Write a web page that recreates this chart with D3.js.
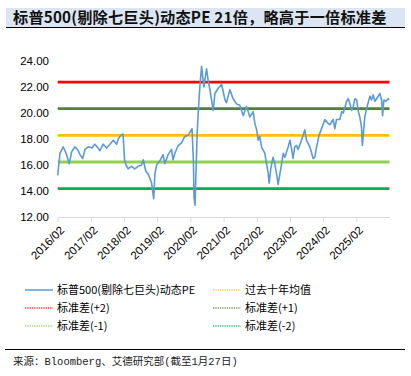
<!DOCTYPE html>
<html>
<head>
<meta charset="utf-8">
<script src="https://cdn.jsdelivr.net/npm/d3@7"></script>
<style>
  body { margin: 0; background: #fff; }
  svg { display: block; }
</style>
</head>
<body>
<svg id="chart" width="411" height="376"></svg>
<script>
// Podaci - S&P 500 (bez sedam divova), forward PE
const dates = [
  "2016-02-01","2016-02-26","2016-04-02","2016-05-09","2016-06-07","2016-07-03","2016-08-09","2016-09-15",
  "2016-10-03","2016-11-02","2016-11-27","2017-01-03","2017-02-10","2017-03-16","2017-04-21","2017-05-10",
  "2017-06-16","2017-07-23","2017-08-29","2017-10-04","2017-11-11","2017-11-29","2017-12-17","2018-01-20",
  "2018-02-06","2018-02-22","2018-03-17","2018-04-24","2018-05-30","2018-07-05","2018-08-12","2018-08-30",
  "2018-09-29","2018-10-24","2018-11-12","2018-12-01","2018-12-24","2019-01-06","2019-01-25","2019-03-01",
  "2019-04-06","2019-04-25","2019-06-01","2019-07-08","2019-07-25","2019-08-14","2019-09-20","2019-10-26",
  "2019-12-02","2020-01-08","2020-02-19","2020-03-05","2020-03-12","2020-03-23","2020-04-03","2020-04-15",
  "2020-05-01","2020-05-15","2020-06-03","2020-06-28","2020-07-28","2020-08-15","2020-09-03","2020-10-09",
  "2020-10-28","2020-12-03","2021-01-10","2021-02-16","2021-03-05","2021-04-10","2021-05-16","2021-06-23",
  "2021-07-29","2021-09-04","2021-10-11","2021-11-17","2021-12-23","2022-01-11","2022-01-30","2022-02-17",
  "2022-03-06","2022-03-25","2022-05-01","2022-05-19","2022-06-06","2022-06-17","2022-07-05","2022-07-30",
  "2022-08-18","2022-09-07","2022-09-24","2022-10-13","2022-11-01","2022-11-19","2022-12-07","2023-01-13",
  "2023-02-01","2023-02-20","2023-03-07","2023-03-26","2023-04-14","2023-05-01","2023-06-08","2023-07-14",
  "2023-08-02","2023-09-08","2023-10-14","2023-11-02","2023-11-21","2023-12-19","2024-01-15","2024-02-21",
  "2024-03-27","2024-04-15","2024-05-21","2024-06-09","2024-06-28","2024-08-04","2024-08-23","2024-09-10",
  "2024-10-17","2024-11-04","2024-11-23","2024-12-11","2024-12-29","2025-01-17","2025-02-05","2025-02-23",
  "2025-03-11","2025-03-30","2025-04-08","2025-05-05","2025-05-24","2025-06-30","2025-07-18","2025-08-05",
  "2025-08-24","2025-09-12","2025-10-18","2025-11-06","2025-11-17","2025-12-01","2025-12-23","2026-01-18",
  "2026-01-27"
];
const peValues = [
  15.2, 16.9, 17.4, 16.8, 16.1, 17.0, 17.4, 17.1,
  16.8, 16.5, 17.2, 17.4, 17.3, 17.6, 17.3, 17.1,
  17.6, 17.3, 17.6, 17.9, 17.6, 18.0, 18.2, 18.4,
  16.4, 16.0, 15.7, 15.9, 15.7, 15.9, 16.0, 16.4,
  15.5, 15.3, 15.0, 14.6, 13.4, 15.3, 16.0, 16.3,
  16.8, 16.1, 16.8, 17.2, 16.4, 16.9, 17.5, 17.7,
  18.2, 18.3, 18.8, 16.3, 13.5, 12.9, 15.5, 18.4,
  20.5, 22.0, 23.6, 22.0, 23.4, 22.5, 21.8, 20.2,
  21.5, 21.9, 22.2, 21.0, 20.8, 21.8, 21.1, 20.7,
  20.6, 19.8, 20.5, 19.7, 20.1, 19.2, 18.7, 17.9,
  18.2, 17.4, 16.9, 16.1, 15.4, 14.6, 15.7, 16.6,
  16.1, 15.3, 14.5, 15.3, 16.1, 16.9, 16.6, 17.4,
  17.9, 17.2, 16.5, 17.4, 17.5, 17.2, 17.9, 18.7,
  17.9, 17.4, 16.5, 16.6, 17.4, 18.3, 18.8, 19.5,
  19.2, 19.1, 19.5, 18.8, 19.5, 19.5, 20.1, 20.0,
  20.9, 21.1, 20.7, 20.2, 20.5, 21.1, 21.0, 20.1,
  19.7, 18.9, 17.5, 19.7, 20.3, 21.3, 21.0, 21.4,
  20.9, 21.1, 21.5, 21.0, 19.8, 21.0, 20.9, 21.1,
  21.0
];

// Referentne linije (prosjek i standardne devijacije)
const bandKeys = ["plus2", "plus1", "mean", "minus1", "minus2"];
const bandValues = [22.38, 20.33, 18.28, 16.23, 14.18];
const bandLabels = ["标准差(+2)", "标准差(+1)", "过去十年均值", "标准差(-1)", "标准差(-2)"];

const yTicks = [12, 14, 16, 18, 20, 22, 24];
const xTickYears = [2016, 2017, 2018, 2019, 2020, 2021, 2022, 2023, 2024, 2025];

const seriesName = "标普500(剔除七巨头)动态PE";
const titleText = "标普500(剔除七巨头)动态PE 21倍，略高于一倍标准差";
const sourceText = "来源：Bloomberg、艾德研究部(截至1月27日)";

// Boje
const COLORS = {
  series: "#5B9BD5",
  plus2: "#FF0000",
  plus1: "#548235",
  mean: "#FFC000",
  minus1: "#92D050",
  minus2: "#00B050",
  axis: "#D9D9D9",
  titleBg: "#DCE6F2"
};

const CJK = "'Microsoft YaHei', 'Noto Sans CJK SC', sans-serif";
const svg = d3.select("#chart");

// Naslov
svg.append("rect").attr("x", 6).attr("y", 8).attr("width", 399).attr("height", 19)
  .attr("fill", COLORS.titleBg);
svg.append("line").attr("x1", 6).attr("x2", 405).attr("y1", 27.5).attr("y2", 27.5)
  .attr("stroke", "#000").attr("stroke-width", 1);
svg.append("text").attr("x", 13).attr("y", 23)
  .attr("font-family", "'SimHei', 'Noto Sans CJK SC', sans-serif")
  .attr("font-weight", "bold").attr("font-size", "15.2px").attr("fill", "#111")
  .attr("letter-spacing", "0.2px")
  .text(titleText);

// Skale
const parse = d3.timeParse("%Y-%m-%d");
const data = dates.map((d, i) => ({ date: parse(d), value: peValues[i] }));

const x = d3.scaleTime()
  .domain([new Date(2016, 1, 1), new Date(2026, 1, 1)])
  .range([57.7, 389.5]);
const y = d3.scaleLinear().domain([12, 24]).range([217, 61]);

// Y os - samo oznake
svg.append("g")
  .selectAll("text")
  .data(yTicks)
  .join("text")
  .attr("x", 49)
  .attr("y", d => y(d))
  .attr("dy", "0.35em")
  .attr("text-anchor", "end")
  .attr("font-family", "Arial, 'Liberation Sans', sans-serif")
  .attr("font-size", "11.5px")
  .attr("fill", "#000")
  .text(d => d.toFixed(2));

// X os
const xAxis = d3.axisBottom(x)
  .tickValues(xTickYears.map(yr => new Date(yr, 1, 1)))
  .tickFormat(d3.timeFormat("%Y/%m"))
  .tickSize(5)
  .tickSizeOuter(0);

const xg = svg.append("g")
  .attr("transform", `translate(0,${y(12)})`)
  .call(xAxis);
xg.select(".domain").attr("stroke", COLORS.axis);
xg.selectAll(".tick line").attr("stroke", COLORS.axis);
xg.selectAll(".tick text")
  .attr("font-family", "Arial, 'Liberation Sans', sans-serif")
  .attr("font-size", "11.5px")
  .attr("fill", "#000")
  .attr("text-anchor", "end")
  .attr("transform", "translate(4,11) rotate(-45)")
  .attr("dy", "0.35em")
  .attr("y", 0);

// Referentne linije
svg.append("g")
  .selectAll("line")
  .data(bandValues)
  .join("line")
  .attr("x1", x.range()[0])
  .attr("x2", x.range()[1])
  .attr("y1", d => y(d))
  .attr("y2", d => y(d))
  .attr("stroke", (d, i) => COLORS[bandKeys[i]])
  .attr("stroke-width", 2.8);

// Linija serije
const line = d3.line().x(d => x(d.date)).y(d => y(d.value));
svg.append("path")
  .datum(data)
  .attr("fill", "none")
  .attr("stroke", COLORS.series)
  .attr("stroke-width", 1.6)
  .attr("stroke-linejoin", "round")
  .attr("d", line);

// Legenda
const legendItems = [
  { label: seriesName, color: COLORS.series, dotted: false },
  { label: bandLabels[2], color: COLORS.mean, dotted: true },
  { label: bandLabels[0], color: COLORS.plus2, dotted: true },
  { label: bandLabels[1], color: COLORS.plus1, dotted: true },
  { label: bandLabels[3], color: COLORS.minus1, dotted: true },
  { label: bandLabels[4], color: COLORS.minus2, dotted: true }
];

const legend = svg.append("g")
  .selectAll("g")
  .data(legendItems)
  .join("g")
  .attr("transform", (d, i) => `translate(${i % 2 === 0 ? 25 : 213},${290 + Math.floor(i / 2) * 18})`);

legend.append("line")
  .attr("x1", 0).attr("x2", 28)
  .attr("stroke", d => d.color)
  .attr("stroke-width", d => d.dotted ? 1.3 : 2)
  .attr("stroke-opacity", d => d.dotted ? 0.8 : 0.75)
  .attr("stroke-dasharray", d => d.dotted ? "1.3,1" : null);

legend.append("text")
  .attr("x", 32)
  .attr("dy", "0.35em")
  .attr("font-family", CJK)
  .attr("font-size", "11px")
  .attr("fill", "#000")
  .text(d => d.label);

// Izvor
svg.append("line").attr("x1", 5).attr("x2", 405).attr("y1", 349.5).attr("y2", 349.5)
  .attr("stroke", "#000").attr("stroke-width", 1);
svg.append("text").attr("x", 13).attr("y", 365)
  .attr("font-family", "'SimSun', 'Liberation Mono', 'Noto Sans CJK SC', monospace")
  .attr("font-size", "10.5px").attr("fill", "#222")
  .text(sourceText);
</script>
</body>
</html>
